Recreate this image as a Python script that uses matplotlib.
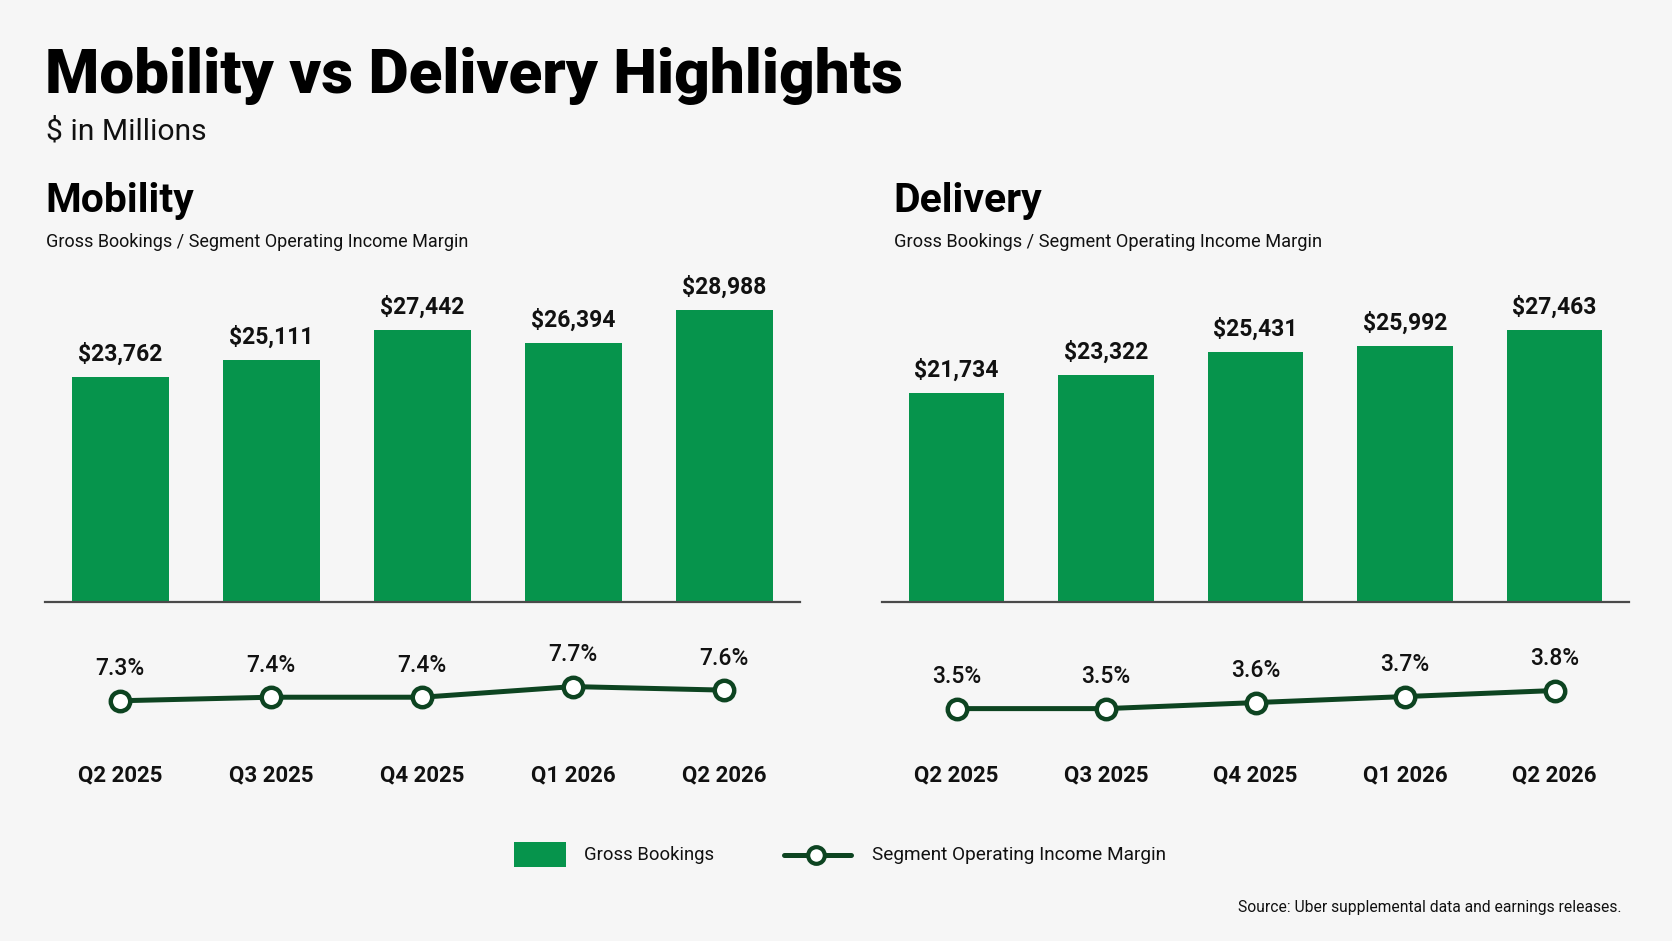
import matplotlib
matplotlib.use("Agg")
import matplotlib.pyplot as plt
from matplotlib.patches import Rectangle
from matplotlib.lines import Line2D
import matplotlib.transforms as mtrans

# ---------------- data ----------------
quarters = ["Q2 2025", "Q3 2025", "Q4 2025", "Q1 2026", "Q2 2026"]
mobility_bookings = [23762, 25111, 27442, 26394, 28988]
mobility_margin = [7.3, 7.4, 7.4, 7.7, 7.6]
delivery_bookings = [21734, 23322, 25431, 25992, 27463]
delivery_margin = [3.5, 3.5, 3.6, 3.7, 3.8]

title = "Mobility vs Delivery Highlights"
subtitle = "$ in Millions"
panel_sub = "Gross Bookings / Segment Operating Income Margin"
legend_labels = ["Gross Bookings", "Segment Operating Income Margin"]
source = "Source: Uber supplemental data and earnings releases."

# ---------------- style ----------------
BG = "#F6F6F6"
GREEN = "#06944C"
DARK = "#0D4421"
TXT = "#111111"
FONT = ["Roboto", "DejaVu Sans"]
plt.rcParams["font.family"] = FONT

W, H = 1672, 941
fig = plt.figure(figsize=(W / 100, H / 100), dpi=100, facecolor=BG)

DW, DH = 1568.0, 882.0  # reference measuring scale


def fx(x):
    return x / DW


def fy(y):
    return 1 - y / DH


texts_to_fit = []


def ftext(x, y, s, width, **kw):
    t = fig.text(fx(x), fy(y), s, **kw)
    texts_to_fit.append((t, width * W / DW))
    return t


ftext(42, 87, title, 803, fontsize=46, fontweight="heavy", color="black", va="baseline", ha="left")
ftext(43, 130.5, subtitle, 150, fontsize=20, fontweight="normal", color=TXT, va="baseline", ha="left")

panels = [
    dict(name="Mobility", hx=43, x0=42, x1=750, bars=mobility_bookings, margin=mobility_margin,
         bylim=(6132, 32395), lylim=(5.698, 9.313), subw=394),
    dict(name="Delivery", hx=838, x0=827, x1=1528, bars=delivery_bookings, margin=delivery_margin,
         bylim=(2730, 33188), lylim=(2.689, 4.813), subw=401),
]

for p in panels:
    ftext(p["hx"], 198.5, p["name"], 139, fontsize=30,
          fontweight="bold", color="black", va="baseline", ha="left")
    ftext(p["hx"], 231.5, panel_sub, p["subw"], fontsize=13, color=TXT, va="baseline", ha="left")

    left = fx(p["x0"])
    width = (p["x1"] - p["x0"]) / DW
    axb = fig.add_axes([left, fy(564), width, (564 - 250) / DH])
    axb.set_facecolor("none")
    x = list(range(len(quarters)))
    axb.bar(x, p["bars"], width=0.64, color=GREEN, zorder=2)
    axb.set_xlim(-0.5, len(quarters) - 0.5)
    axb.set_ylim(*p["bylim"])
    for s in ["top", "right", "left"]:
        axb.spines[s].set_visible(False)
    axb.spines["bottom"].set_color("#4a4a4a")
    axb.spines["bottom"].set_linewidth(1.6)
    axb.set_xticks([])
    axb.set_yticks([])
    for xi, v in zip(x, p["bars"]):
        axb.annotate(f"${v:,}", (xi, v), xytext=(0, 16.5), textcoords="offset points",
                     ha="center", va="center", fontsize=16.5, fontweight="bold", color=TXT)

    axl = fig.add_axes([left, fy(710), width, 120 / DH])
    axl.set_facecolor("none")
    axl.plot(x, p["margin"], color=DARK, lw=3.6, marker="o", markersize=14,
             markerfacecolor="white", markeredgecolor=DARK, markeredgewidth=3.2,
             solid_capstyle="round", zorder=3)
    axl.set_xlim(-0.5, len(quarters) - 0.5)
    axl.set_ylim(*p["lylim"])
    axl.axis("off")
    for xi, v in zip(x, p["margin"]):
        axl.annotate(f"{v:.1f}%", (xi, v), xytext=(0, 23), textcoords="offset points",
                     ha="center", va="center", fontsize=16.5, fontweight="medium", color=TXT)
    tr = mtrans.blended_transform_factory(axl.transData, fig.transFigure)
    for xi, q in zip(x, quarters):
        fig.text(xi, fy(727), q, transform=tr, ha="center", va="center",
                 fontsize=16, fontweight="bold", color=TXT)

# ---------------- legend ----------------
fig.add_artist(Rectangle((fx(482), fy(813)), (531 - 482) / DW, 24 / DH,
                         transform=fig.transFigure, facecolor=GREEN, edgecolor="none"))
ftext(548, 801, legend_labels[0], 122, fontsize=14, color=TXT, va="center", ha="left")
fig.add_artist(Line2D([fx(735), fx(798)], [fy(801), fy(801)], transform=fig.transFigure,
                      color=DARK, lw=3.6, solid_capstyle="round"))
fig.add_artist(Line2D([fx(765)], [fy(801)], transform=fig.transFigure, marker="o",
                      markersize=12, markerfacecolor="white", markeredgecolor=DARK,
                      markeredgewidth=3, linestyle="none"))
ftext(818, 801, legend_labels[1], 279, fontsize=14, color=TXT, va="center", ha="left")

ftext(1521, 851, source, 361, fontsize=11.5, color=TXT, va="center", ha="right")

# fit text widths to the reference
fig.canvas.draw()
r = fig.canvas.get_renderer()
for t, target in texts_to_fit:
    w = t.get_window_extent(r).width
    if w > 0:
        t.set_fontsize(t.get_fontsize() * target / w)

fig.savefig("out.png", dpi=100, facecolor=BG)
